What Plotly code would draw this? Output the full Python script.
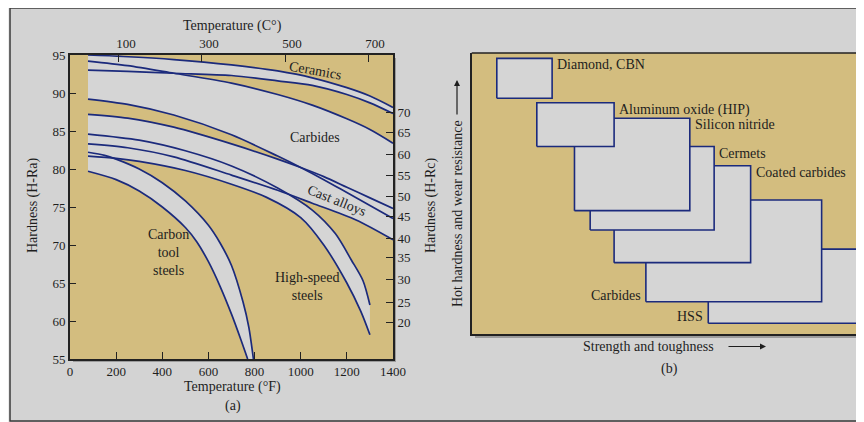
import plotly.graph_objects as go

W, H = 864, 422
PAGE_OFFSET = 8  # the html body margin shifts the figure by this many pixels

# ---------------- panel (a): temperature (°F) vs hardness (HRA) ----------------
CERAMICS_UP_T = [78, 230, 450, 700, 900, 1050, 1200, 1300, 1400]
CERAMICS_UP_H = [95.0, 94.8, 94.4, 93.7, 92.9, 92.0, 90.7, 89.6, 88.1]
CERAMICS_LO_T = [78, 250, 450, 700, 900, 1050, 1200, 1300, 1400]
CERAMICS_LO_H = [93.0, 92.85, 92.6, 92.3, 91.6, 91.0, 89.8, 88.7, 87.3]
CARBIDES_UP_T = [78, 250, 450, 700, 900, 1050, 1200, 1300, 1400]
CARBIDES_UP_H = [94.2, 93.6, 92.6, 91.3, 89.8, 88.4, 86.6, 85.2, 83.4]
CARBIDES_LO_T = [78, 250, 450, 700, 900, 1000, 1100, 1200, 1300, 1400]
CARBIDES_LO_H = [89.2, 88.5, 87.1, 84.5, 81.7, 80.2, 78.6, 76.9, 75.2, 73.5]
CAST_UP_T = [78, 250, 450, 700, 900, 1000, 1100, 1200, 1300, 1400]
CAST_UP_H = [87.2, 86.7, 85.5, 83.3, 81.3, 80.2, 79.0, 77.6, 76.2, 74.8]
CAST_LO_T = [78, 250, 450, 700, 900, 1050, 1240, 1400]
CAST_LO_H = [83.3, 82.8, 81.6, 79.2, 77.2, 75.5, 73.3, 70.7]
HSS_UP_T = [78, 300, 500, 700, 900, 1050, 1150, 1220, 1270, 1300]
HSS_UP_H = [84.6, 83.8, 82.4, 80.4, 77.5, 74.6, 71.5, 68.0, 65.3, 62.1]
HSS_LO_T = [78, 200, 300, 500, 700, 850, 1000, 1100, 1200, 1260, 1300]
HSS_LO_H = [81.7, 81.4, 81.0, 79.8, 78.0, 76.3, 73.6, 70.0, 65.0, 61.3, 58.2]
CARBON_UP_T = [78, 150, 200, 300, 400, 500, 600, 650, 700, 750, 775, 795]
CARBON_UP_H = [82.2, 81.8, 81.3, 80.0, 78.2, 75.8, 72.6, 70.3, 67.3, 62.5, 59.2, 55.0]
CARBON_LO_T = [78, 200, 300, 400, 500, 550, 600, 650, 700, 740, 770]
CARBON_LO_H = [79.7, 78.6, 77.1, 75.0, 72.3, 70.4, 67.8, 64.6, 60.9, 57.6, 55.0]

BANDS = [
    ("Ceramics", CERAMICS_UP_T, CERAMICS_UP_H, CERAMICS_LO_T, CERAMICS_LO_H),
    ("Carbides", CARBIDES_UP_T, CARBIDES_UP_H, CARBIDES_LO_T, CARBIDES_LO_H),
    ("Cast alloys", CAST_UP_T, CAST_UP_H, CAST_LO_T, CAST_LO_H),
    ("High-speed steels", HSS_UP_T, HSS_UP_H, HSS_LO_T, HSS_LO_H),
    ("Carbon tool steels", CARBON_UP_T, CARBON_UP_H, CARBON_LO_T, CARBON_LO_H),
]

F_TICKS = [0, 200, 400, 600, 800, 1000, 1200, 1400]
HRA_TICKS = [55, 60, 65, 70, 75, 80, 85, 90, 95]
C_LABELS = ["100", "300", "500", "700"]
C_AT_F = [212, 572, 932, 1292]
RC_LABELS = ["70", "65", "60", "55", "50", "45", "40", "35", "30", "25", "20"]
RC_AT_HRA = [87.4, 84.75, 81.9, 79.1, 76.4, 73.7, 70.8, 68.3, 65.5, 62.4, 59.8]

# band labels: (text, °F, HRA, angle)
BAND_LABELS = [
    ("Ceramics", 1062, 93.0, 10),
    ("Carbides", 1062, 84.2, 0),
    ("Cast alloys", 1156, 75.9, 22),
    ("Carbon<br>tool<br>steels", 425, 69.0, 0),
    ("High-speed<br>steels", 1029, 64.6, 0),
]

# ---------------- panel (b): tool materials ----------------
RECT_NAMES = ["HSS", "Carbides", "Coated carbides", "Cermets",
              "Silicon nitride", "Aluminum oxide (HIP)", "Diamond, CBN"]
RECT_X0 = [60.3, 44.4, 36.3, 30.2, 26.2, 16.6, 6.4]
RECT_X1 = [99.2, 89.2, 71.1, 61.8, 55.6, 36.3, 20.5]
RECT_Y0 = [3.8, 11.5, 25.4, 37.0, 43.9, 66.7, 83.9]
RECT_Y1 = [30.2, 47.7, 59.9, 66.7, 76.8, 82.3, 98.1]
RECT_LABEL_SIDE = ["left", "left", "right", "right", "right", "right", "right"]

# ---------------- styles ----------------
BG = "#d3d3d3"
OUTSIDE = "#ececec"
TAN = "#d3bd7f"
BAND_FILL = "#d5d5d5"
NAVY = "#1b2a7c"
INK = "#1e1e1e"
FONT = "Liberation Serif"


def px(x):
    return (x - PAGE_OFFSET) / W


def py(y):
    return 1 - (y - PAGE_OFFSET) / H


fig = go.Figure()

# band fills
for name, ut, uh, lt, lh in BANDS:
    fig.add_trace(go.Scatter(
        x=list(ut) + list(lt)[::-1], y=list(uh) + list(lh)[::-1],
        fill="toself", fillcolor=BAND_FILL, mode="lines",
        line=dict(width=0, color=BAND_FILL), hoverinfo="skip",
        showlegend=False, xaxis="x", yaxis="y"))

# band boundary curves
for name, ut, uh, lt, lh in BANDS:
    for tt, hh in ((ut, uh), (lt, lh)):
        fig.add_trace(go.Scatter(
            x=tt, y=hh, mode="lines",
            line=dict(color=NAVY, width=1.7, shape="spline", smoothing=0.8),
            hoverinfo="skip", showlegend=False, xaxis="x", yaxis="y"))

# invisible anchor for the secondary (°C / HRc) axes
fig.add_trace(go.Scatter(x=[F_TICKS[0]], y=[HRA_TICKS[0]], mode="markers",
                         marker=dict(opacity=0), hoverinfo="skip",
                         showlegend=False, xaxis="x2", yaxis="y2"))

# rectangles of panel (b)
for i, name in enumerate(RECT_NAMES):
    x0, x1, y0, y1 = RECT_X0[i], RECT_X1[i], RECT_Y0[i], RECT_Y1[i]
    fig.add_trace(go.Scatter(
        x=[x0, x1, x1, x0, x0], y=[y0, y0, y1, y1, y0],
        fill="toself", fillcolor=BAND_FILL, mode="lines",
        line=dict(color=NAVY, width=1.6), hoverinfo="skip",
        showlegend=False, xaxis="x3", yaxis="y3"))

annotations = []
tf = dict(family=FONT, size=14, color=INK)

for text, t, h, ang in BAND_LABELS:
    annotations.append(dict(x=t, y=h, xref="x", yref="y", text=text,
                            xanchor="center", yanchor="middle",
                            showarrow=False, textangle=ang, font=tf))

for i, name in enumerate(RECT_NAMES):
    if RECT_LABEL_SIDE[i] == "right":
        annotations.append(dict(x=RECT_X1[i], y=RECT_Y1[i], xref="x3", yref="y3",
                                text=name, showarrow=False, xanchor="left",
                                yanchor="top", xshift=3, yshift=3, font=tf))
    else:
        annotations.append(dict(x=RECT_X0[i], y=RECT_Y0[i], xref="x3", yref="y3",
                                text=name, showarrow=False, xanchor="right",
                                yanchor="bottom", xshift=-3, yshift=-3, font=tf))


def cap(x, y, text, angle=0):
    return dict(x=px(x), y=py(y), xref="paper", yref="paper", text=text,
                xanchor="center", yanchor="middle", showarrow=False,
                textangle=angle, font=tf)


annotations += [
    cap(232, 26, "Temperature (C°)"),
    cap(232, 387, "Temperature (°F)"),
    cap(233, 406, "(a)"),
    cap(33, 205, "Hardness (H-Ra)", -90),
    cap(431, 205, "Hardness (H-Rc)", -90),
    cap(457, 214, "Hot hardness and wear resistance", -90),
    cap(648, 346.5, "Strength and toughness"),
    cap(669, 369, "(b)"),
    # arrows
    dict(x=px(457), y=py(80), ax=0, ay=36, xref="paper", yref="paper",
         axref="pixel", ayref="pixel", text="", showarrow=True, arrowhead=2,
         arrowsize=1, arrowwidth=1.2, arrowcolor=INK),
    dict(x=px(766), y=py(346.5), ax=-39, ay=0, xref="paper", yref="paper",
         axref="pixel", ayref="pixel", text="", showarrow=True, arrowhead=2,
         arrowsize=1, arrowwidth=1.2, arrowcolor=INK),
]

shapes = [
    # light margin left of the frame
    dict(type="rect", xref="paper", yref="paper", x0=0, x1=px(10), y0=0, y1=1,
         fillcolor=OUTSIDE, line=dict(width=0), layer="below"),
    # frame
    dict(type="rect", xref="paper", yref="paper", x0=px(10), x1=px(880),
         y0=py(421), y1=py(8), line=dict(color="#3a3a3a", width=1.5),
         fillcolor="rgba(0,0,0,0)", layer="below"),
    # shadows
    dict(type="rect", xref="paper", yref="paper", x0=px(73), x1=px(396),
         y0=py(362), y1=py(359), fillcolor="#9c9c9c", line=dict(width=0), layer="below"),
    dict(type="rect", xref="paper", yref="paper", x0=px(393), x1=px(396),
         y0=py(362), y1=py(58), fillcolor="#9c9c9c", line=dict(width=0), layer="below"),
    dict(type="rect", xref="paper", yref="paper", x0=px(475), x1=1,
         y0=py(338), y1=py(334), fillcolor="#9c9c9c", line=dict(width=0), layer="below"),
    # top border of panel (b)
    dict(type="line", xref="paper", yref="paper", x0=px(471.7), x1=1,
         y0=py(53), y1=py(53), line=dict(color="#222", width=1.5)),
]

tickfont = dict(family=FONT, size=13, color=INK)
axis_common = dict(showgrid=False, zeroline=False, showline=True, automargin=False,
                   linecolor="#222", linewidth=1.6, tickcolor="#222",
                   tickfont=tickfont)
plain_axis = dict(showticklabels=False, ticks="", showgrid=False, zeroline=False,
                  automargin=False, showline=True, linecolor="#222", linewidth=1.6)

fig.update_layout(
    width=W, height=H, autosize=False,
    margin=dict(l=0, r=0, t=0, b=0, pad=0),
    paper_bgcolor=BG, plot_bgcolor=TAN,
    showlegend=False,
    xaxis=dict(domain=[px(70), px(393)], range=[0, 1400], tickvals=F_TICKS,
               ticks="inside", ticklen=7, mirror=True, anchor="y", **axis_common),
    yaxis=dict(domain=[py(359), py(55)], range=[55, 95], tickvals=HRA_TICKS,
               ticks="inside", ticklen=6, mirror=True, anchor="x", **axis_common),
    xaxis2=dict(overlaying="x", side="top", range=[0, 1400], tickvals=C_AT_F,
                ticktext=C_LABELS, ticks="inside", ticklen=7, anchor="y2",
                ticklabelshift=7, **axis_common),
    yaxis2=dict(overlaying="y", side="right", range=[55, 95], tickvals=RC_AT_HRA,
                ticktext=RC_LABELS, ticks="inside", ticklen=7, anchor="x2",
                **axis_common),
    xaxis3=dict(domain=[px(471.7), px(864)], range=[0, 100], anchor="y3", **plain_axis),
    yaxis3=dict(domain=[py(334), py(53)], range=[0, 100], anchor="x3", **plain_axis),
    annotations=annotations,
    shapes=shapes,
)

fig.write_html("out.html")
